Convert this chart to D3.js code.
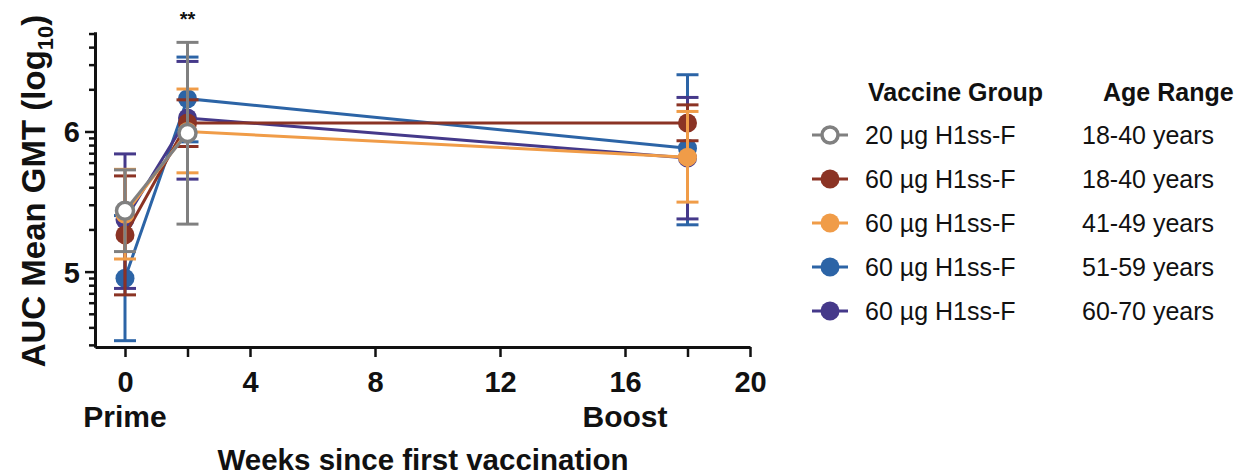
<!DOCTYPE html>
<html>
<head>
<meta charset="utf-8">
<script src="https://cdn.jsdelivr.net/npm/d3@7"></script>
<style>
  body { margin: 0; background: #fff; }
  svg { font-family: "Liberation Sans", Arial, sans-serif; }
</style>
</head>
<body>
<div id="chart"></div>
<script>
// weeks at which titres were measured
const weeks = [0, 2, 18];

// legend labels
const groups = ["20 µg H1ss-F", "60 µg H1ss-F", "60 µg H1ss-F", "60 µg H1ss-F", "60 µg H1ss-F"];
const ages = ["18-40 years", "18-40 years", "41-49 years", "51-59 years", "60-70 years"];

// mean GMT (log10) per group, one value per measured week
const meanGray = [5.434, 5.989];
const meanRed = [5.262, 6.06, 6.06];
const meanOrange = [5.41, 6.0, 5.817];
const meanBlue = [4.953, 6.234, 5.88];
const meanPurple = [5.37, 6.096, 5.81];

// error bar ends
const lowGray = [5.143, 5.339];
const highGray = [5.726, 6.636];
const lowRed = [4.834, 5.893, 5.934];
const highRed = [5.683, 6.226, 6.19];
const lowOrange = [5.09, 5.705, 5.496];
const highOrange = [5.73, 6.303, 6.143];
const lowBlue = [4.507, 5.926, 5.334];
const highBlue = [5.40, 6.531, 6.405];
const lowPurple = [4.88, 5.66, 5.376];
const highPurple = [5.84, 6.50, 6.243];

// axis ticks
const xTicks = [0, 2, 4, 8, 12, 16, 18, 20];
const xLabelled = [0, 4, 8, 12, 16, 20];
const yMajor = [5, 6];

const colors = ["#808080", "#8b3324", "#f09c48", "#2c64a6", "#45398a"];

const series = [
  { mean: meanGray, low: lowGray, high: highGray, open: true },
  { mean: meanRed, low: lowRed, high: highRed },
  { mean: meanOrange, low: lowOrange, high: highOrange },
  { mean: meanBlue, low: lowBlue, high: highBlue },
  { mean: meanPurple, low: lowPurple, high: highPurple }
].map((s, i) => ({ ...s, color: colors[i], group: groups[i], age: ages[i] }));

// draw order in the plot (gray on top)
const drawOrder = [3, 4, 1, 2, 0];

const WIDTH = 1247, HEIGHT = 475;

const svg = d3.select("#chart").append("svg")
  .attr("width", WIDTH)
  .attr("height", HEIGHT);

const x = d3.scaleLinear().domain([-0.96, 20]).range([95, 750]);
const y = d3.scaleLinear().domain([4.462, 6.71]).range([347, 32]);

// minor log ticks: k * 10^d
const yMinor = [];
[4, 5, 6].forEach(d => {
  for (let k = 2; k <= 9; k++) {
    const v = d + Math.log10(k);
    if (v >= y.domain()[0] && v <= y.domain()[1]) yMinor.push(v);
  }
});

// y axis
const yMinorAxis = svg.append("g")
  .attr("transform", "translate(95,0)")
  .call(d3.axisLeft(y).tickValues(yMinor).tickSize(6).tickSizeOuter(0).tickFormat(""));
const yAxis = svg.append("g")
  .attr("transform", "translate(95,0)")
  .call(d3.axisLeft(y).tickValues(yMajor).tickSize(10).tickSizeOuter(0).tickPadding(5).tickFormat(d3.format("d")));

// x axis
const xAxis = svg.append("g")
  .attr("transform", "translate(0,347)")
  .call(d3.axisBottom(x).tickValues(xTicks).tickSize(10).tickSizeOuter(0).tickPadding(14)
    .tickFormat(d => xLabelled.includes(d) ? d : ""));

[yMinorAxis, yAxis, xAxis].forEach(g => {
  g.select(".domain").attr("stroke", "#111").attr("stroke-width", 3);
  g.selectAll(".tick line").attr("stroke", "#111").attr("stroke-width", 2.5);
  g.selectAll(".tick text")
    .attr("fill", "#111")
    .attr("font-size", 29)
    .attr("font-weight", "bold");
});
yAxis.selectAll(".tick text").attr("dy", "0.36em");

// x sub labels
svg.append("text").attr("x", x(0)).attr("y", 427)
  .attr("text-anchor", "middle").attr("font-size", 30).attr("font-weight", "bold").attr("fill", "#111")
  .text("Prime");
svg.append("text").attr("x", x(16)).attr("y", 427)
  .attr("text-anchor", "middle").attr("font-size", 30).attr("font-weight", "bold").attr("fill", "#111")
  .text("Boost");

// axis titles
svg.append("text").attr("x", 423).attr("y", 470)
  .attr("text-anchor", "middle").attr("font-size", 29.5).attr("font-weight", "bold").attr("fill", "#111")
  .text("Weeks since first vaccination");

const yTitle = svg.append("text")
  .attr("transform", "translate(45,191) rotate(-90)")
  .attr("text-anchor", "middle").attr("font-size", 33).attr("font-weight", "bold").attr("fill", "#111");
yTitle.append("tspan").text("AUC Mean GMT (log");
yTitle.append("tspan").attr("font-size", 22).attr("dy", 8).text("10");
yTitle.append("tspan").attr("dy", -8).text(")");

// significance mark
svg.append("text").attr("x", x(2)).attr("y", 26)
  .attr("text-anchor", "middle").attr("font-size", 20).attr("font-weight", "bold").attr("fill", "#111")
  .text("**");

// series
const line = d3.line().x(d => x(d.w)).y(d => y(d.m));

drawOrder.forEach(i => {
  const s = series[i];
  const pts = s.mean.map((m, j) => ({ w: weeks[j], m, lo: s.low[j], hi: s.high[j] }));
  const g = svg.append("g");

  g.append("path").datum(pts)
    .attr("d", line)
    .attr("fill", "none")
    .attr("stroke", s.color)
    .attr("stroke-width", 3);

  const eb = g.selectAll(".eb").data(pts).enter().append("g")
    .attr("stroke", s.color).attr("stroke-width", 3);
  eb.append("line")
    .attr("x1", d => x(d.w)).attr("x2", d => x(d.w))
    .attr("y1", d => y(d.lo)).attr("y2", d => y(d.hi));
  eb.append("line")
    .attr("x1", d => x(d.w) - 11).attr("x2", d => x(d.w) + 11)
    .attr("y1", d => y(d.lo)).attr("y2", d => y(d.lo));
  eb.append("line")
    .attr("x1", d => x(d.w) - 11).attr("x2", d => x(d.w) + 11)
    .attr("y1", d => y(d.hi)).attr("y2", d => y(d.hi));

  g.selectAll("circle").data(pts).enter().append("circle")
    .attr("cx", d => x(d.w)).attr("cy", d => y(d.m))
    .attr("r", s.open ? 8.5 : 9.5)
    .attr("fill", s.open ? "#fff" : s.color)
    .attr("stroke", s.color)
    .attr("stroke-width", s.open ? 3.5 : 0);
});

// legend
const legend = svg.append("g");
legend.append("text").attr("x", 868).attr("y", 101)
  .attr("font-size", 25).attr("font-weight", "bold").attr("fill", "#111").text("Vaccine Group");
legend.append("text").attr("x", 1103).attr("y", 101)
  .attr("font-size", 25).attr("font-weight", "bold").attr("fill", "#111").text("Age Range");

const rowY = d3.scalePoint().domain(d3.range(series.length)).range([135, 311]);

const rows = legend.selectAll(".row").data(series).enter().append("g")
  .attr("transform", (d, i) => `translate(0,${rowY(i)})`);
rows.append("line").attr("x1", 812).attr("x2", 848)
  .attr("stroke", d => d.color).attr("stroke-width", 3);
rows.append("circle").attr("cx", 830).attr("r", d => d.open ? 8 : 9.5)
  .attr("fill", d => d.open ? "#fff" : d.color)
  .attr("stroke", d => d.color).attr("stroke-width", d => d.open ? 3.5 : 0);
rows.append("text").attr("x", 865).attr("dy", "0.36em")
  .attr("font-size", 25).attr("fill", "#111").text(d => d.group);
rows.append("text").attr("x", 1082).attr("dy", "0.36em")
  .attr("font-size", 25).attr("fill", "#111").text(d => d.age);
</script>
</body>
</html>
